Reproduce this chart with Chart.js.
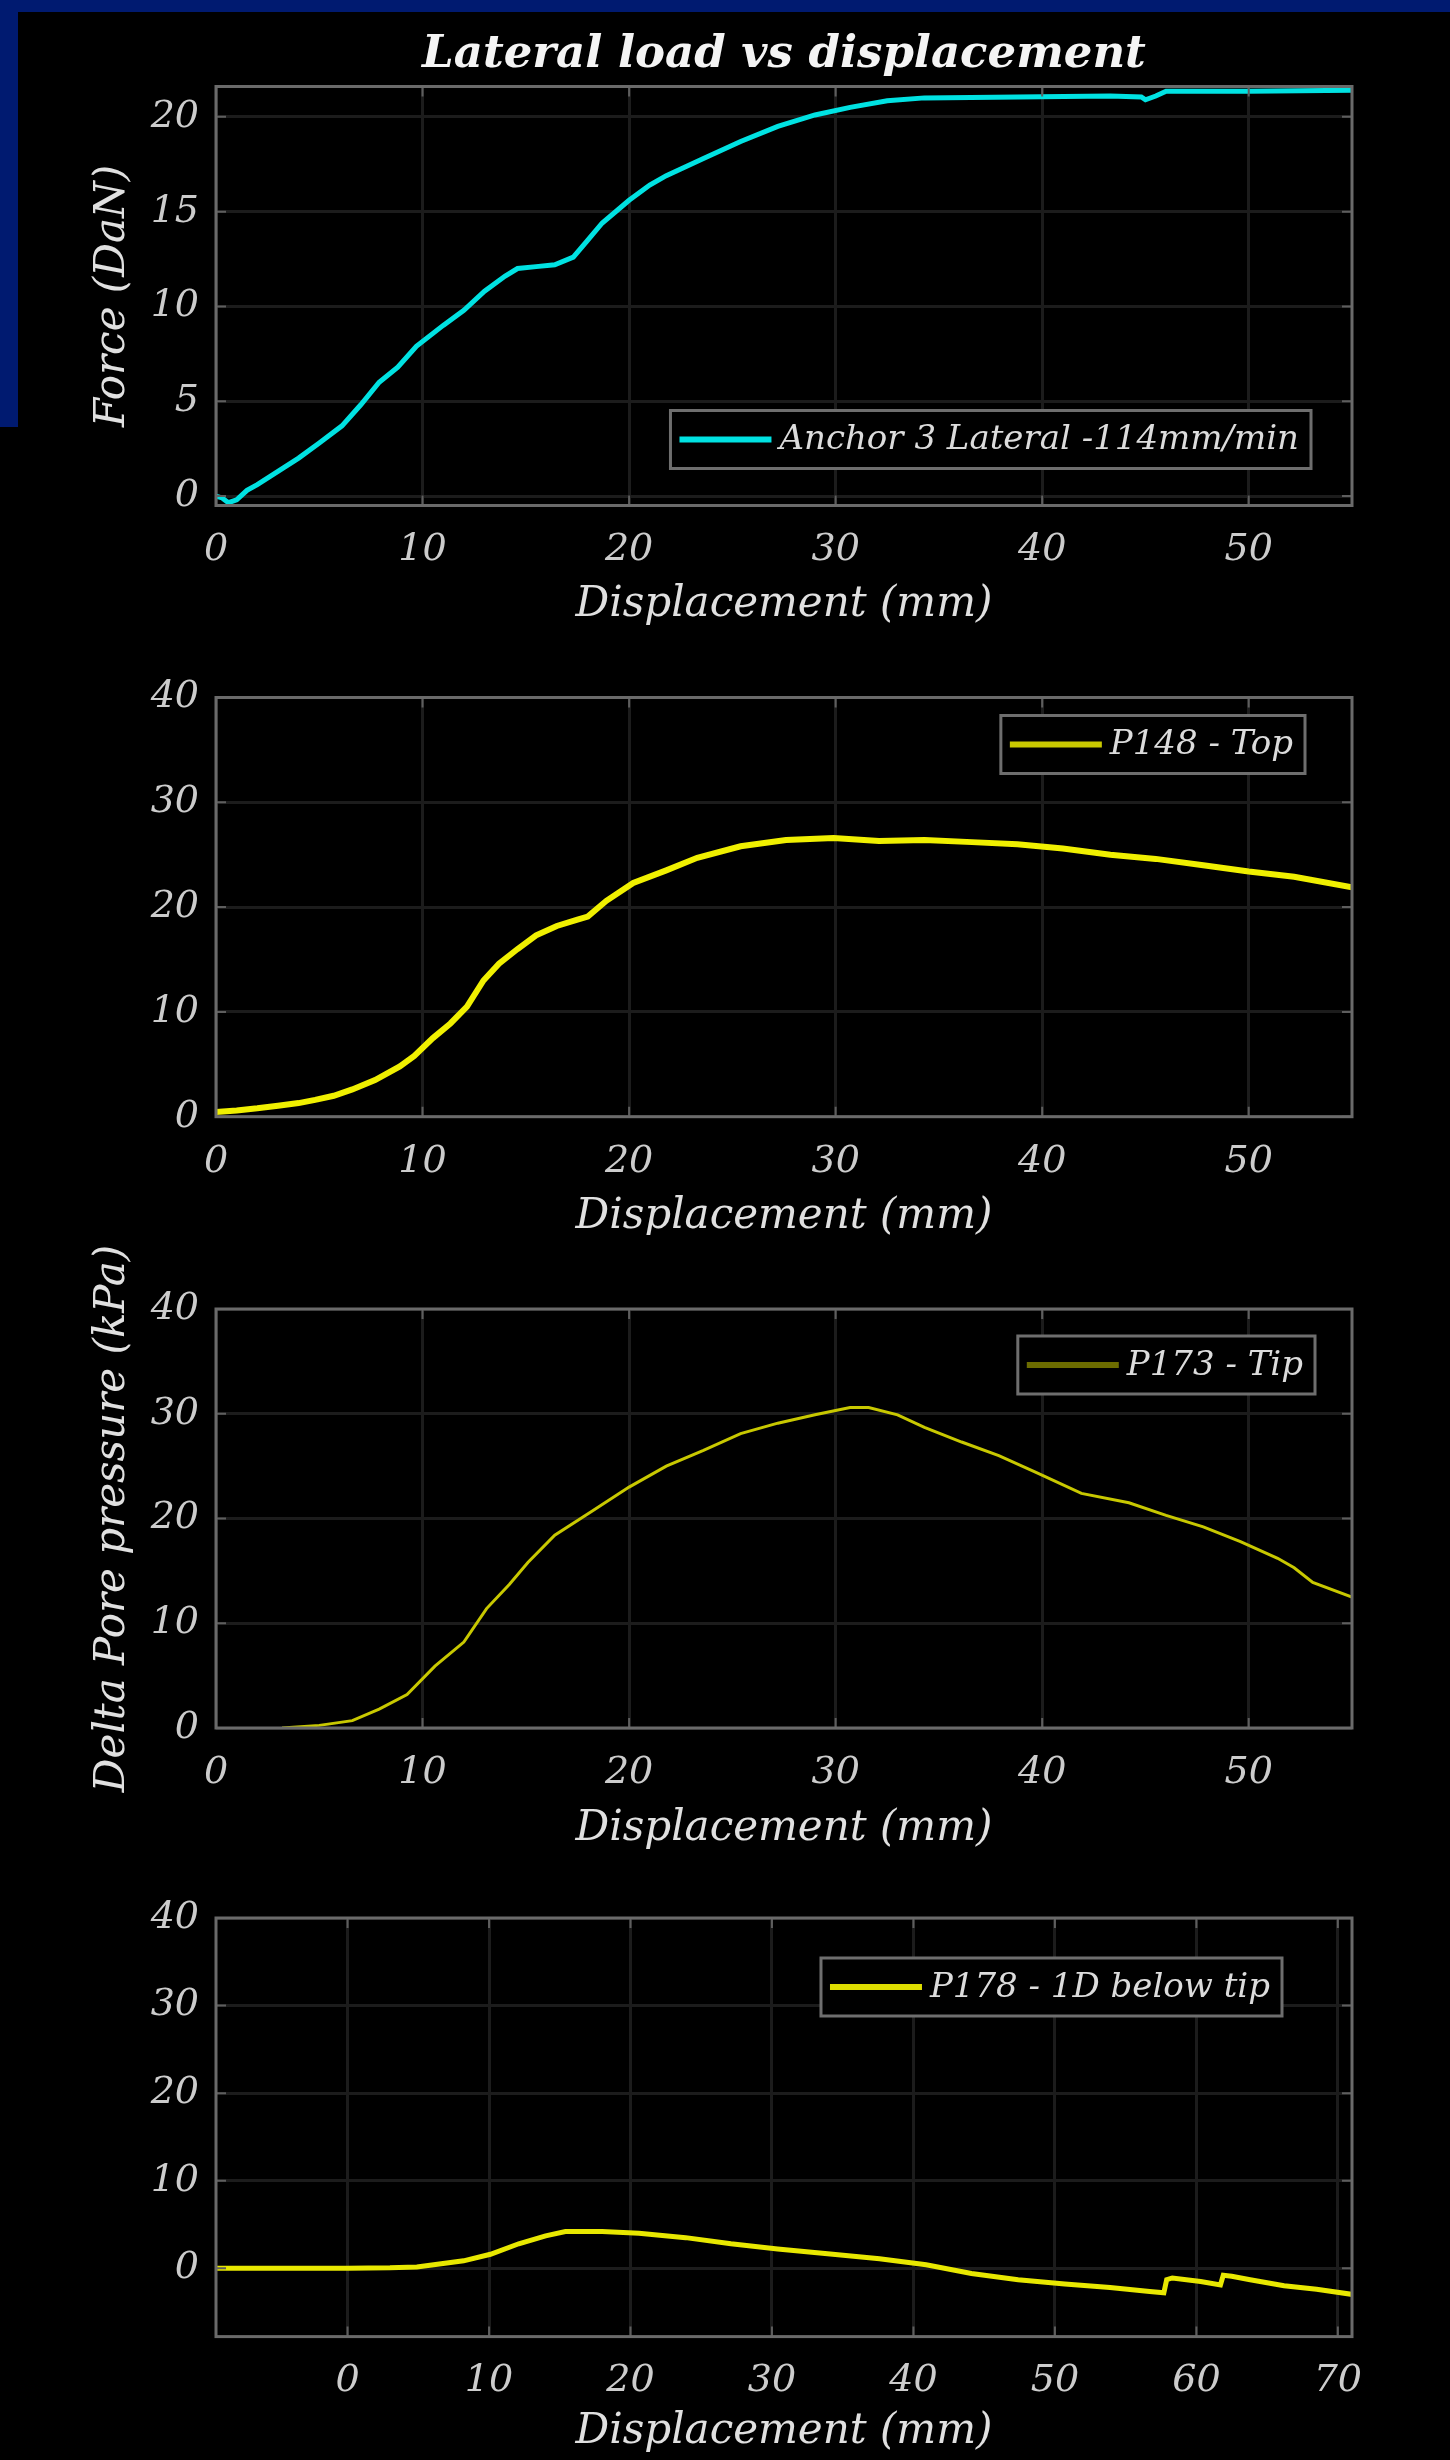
<!DOCTYPE html>
<html>
<head>
<meta charset="utf-8">
<script src="https://cdn.jsdelivr.net/npm/chart.js@4.4.1/dist/chart.umd.min.js"></script>
<style>
  body { margin: 0; background: #000; width: 1450px; height: 2460px; position: relative; overflow: hidden; }
  .band { position: absolute; background: #001a70; }
  canvas { position: absolute; left: 0; }
</style>
</head>
<body>
<div class="band" style="left:0;top:0;width:1450px;height:12px"></div>
<div class="band" style="left:0;top:0;width:18px;height:427px"></div>
<canvas id="force"></canvas>
<canvas id="p148"></canvas>
<canvas id="p173"></canvas>
<canvas id="p178"></canvas>
<script>
// values (displacement in mm)
const anchorX = [0, 0.3, 0.6, 1.0, 1.5, 2.0, 3.0, 4.0, 5.0, 6.1, 7.0, 7.9, 8.8, 9.7, 11.0, 12.0, 13.0, 14.0, 14.6, 15.5,
  16.4, 17.3, 18.0, 18.7, 20.0, 21.0, 21.8, 23.6, 25.4, 27.2, 29.0, 30.7, 32.5, 34.3, 38.8, 43.3, 44.8, 45.0, 45.5, 46.0, 50.0, 55.0];
const anchorY = [0, -0.1, -0.35, -0.2, 0.3, 0.6, 1.3, 2.0, 2.8, 3.7, 4.8, 6.0, 6.8, 7.9, 9.0, 9.8, 10.8, 11.6, 12.0, 12.1,
  12.2, 12.6, 13.5, 14.4, 15.6, 16.4, 16.9, 17.8, 18.7, 19.5, 20.1, 20.5, 20.85, 21.0, 21.05, 21.1, 21.05, 20.9, 21.1, 21.35, 21.35, 21.4];

const p148X = [0, 1, 2, 3, 4, 4.8, 5.7, 6.6, 7.7, 8.9, 9.6, 10.5, 11.35, 12.15, 12.95, 13.7, 14.6, 15.5, 16.5, 17.5,
  18.0, 18.9, 20.2, 21.8, 23.3, 25.4, 27.6, 29.9, 32.1, 34.3, 36.6, 38.8, 41.0, 43.3, 45.5, 47.8, 50.0, 52.2, 55];
const p148Y = [0.45, 0.6, 0.8, 1.05, 1.3, 1.6, 2.0, 2.6, 3.5, 4.8, 5.8, 7.5, 8.9, 10.5, 13.0, 14.6, 16.0, 17.3, 18.2, 18.8,
  19.1, 20.6, 22.3, 23.5, 24.7, 25.8, 26.4, 26.6, 26.3, 26.4, 26.2, 26.0, 25.6, 25.0, 24.6, 24.0, 23.4, 22.9, 21.9];

const p173X = [3.2, 5.0, 6.6, 7.9, 9.25, 10.6, 12.0, 13.1, 14.2, 15.1, 16.4, 18.2, 20.0, 21.8, 23.6, 25.4, 27.2, 29.0,
  30.7, 31.6, 33.0, 34.3, 36.1, 37.9, 39.7, 41.9, 44.2, 46.0, 47.8, 49.6, 51.4, 52.2, 53.1, 55];
const p173Y = [0, 0.25, 0.7, 1.8, 3.2, 5.9, 8.2, 11.4, 13.7, 15.8, 18.4, 20.7, 23.0, 25.0, 26.5, 28.1, 29.1, 29.9,
  30.6, 30.6, 29.9, 28.7, 27.3, 26.0, 24.4, 22.4, 21.5, 20.3, 19.2, 17.8, 16.2, 15.3, 13.9, 12.5];

const p178X = [-9.3, -5, 0, 3, 4.9, 8.2, 10.1, 12.1, 14.0, 15.4, 18.0, 20.6, 23.9, 27.1, 30.4, 34.3, 37.6, 40.9, 44.1,
  47.4, 50.7, 53.9, 56.7, 57.7, 57.9, 58.3, 60.3, 61.7, 61.9, 62.5, 63.8, 66.2, 68.5, 71.1];
const p178Y = [0, 0, 0, 0.05, 0.15, 0.85, 1.6, 2.8, 3.7, 4.2, 4.2, 4.0, 3.5, 2.8, 2.2, 1.6, 1.1, 0.4, -0.6,
  -1.3, -1.8, -2.2, -2.66, -2.8, -1.3, -1.1, -1.5, -1.9, -0.8, -0.9, -1.3, -2.0, -2.4, -3.0];

const dispTicks = [0, 10, 20, 30, 40, 50];
const dispTicksLong = [0, 10, 20, 30, 40, 50, 60, 70];
const forceTicks = [0, 5, 10, 15, 20];
const pressureTicks = [0, 10, 20, 30, 40];

Chart.defaults.font.family = "'DejaVu Serif', serif";
Chart.defaults.animation = false;

const fixedTicks = values => scale => { scale.ticks = values.map(v => ({ value: v })); };

// MATLAB style box with inward tick marks
const frame = {
  id: 'frame',
  afterDatasetsDraw(chart) {
    const { ctx, chartArea: a, scales: { x, y } } = chart;
    ctx.save();
    ctx.strokeStyle = '#5e5e5e';
    ctx.lineWidth = 2;
    ctx.beginPath();
    x.ticks.forEach(t => {
      const px = x.getPixelForValue(t.value);
      ctx.moveTo(px, a.bottom); ctx.lineTo(px, a.bottom - 10);
      ctx.moveTo(px, a.top); ctx.lineTo(px, a.top + 10);
    });
    y.ticks.forEach(t => {
      const py = y.getPixelForValue(t.value);
      ctx.moveTo(a.left, py); ctx.lineTo(a.left + 10, py);
      ctx.moveTo(a.right, py); ctx.lineTo(a.right - 10, py);
    });
    ctx.stroke();
    ctx.strokeStyle = '#6a6a6a';
    ctx.lineWidth = 3;
    ctx.strokeRect(a.left, a.top, a.right - a.left, a.bottom - a.top);
    ctx.restore();
  }
};

// boxed legend drawn inside the plot area
const boxLegend = {
  id: 'boxLegend',
  afterDraw(chart, args, opts) {
    const { ctx, chartArea: a } = chart;
    const ds = chart.data.datasets[0];
    ctx.save();
    ctx.font = "italic 34px 'DejaVu Serif', serif";
    const tw = ctx.measureText(ds.label).width;
    const w = 9 + 92 + 8 + tw + 12, h = 58;
    const right = a.right - opts.dx;
    const top = opts.corner === 'se' ? a.bottom - opts.dy - h : a.top + opts.dy;
    const left = right - w;
    ctx.fillStyle = '#000';
    ctx.fillRect(left, top, w, h);
    ctx.strokeStyle = '#6e6e6e';
    ctx.lineWidth = 3;
    ctx.strokeRect(left, top, w, h);
    ctx.strokeStyle = opts.lineColor || ds.borderColor;
    ctx.lineWidth = 6;
    ctx.beginPath();
    ctx.moveTo(left + 9, top + h / 2);
    ctx.lineTo(left + 101, top + h / 2);
    ctx.stroke();
    ctx.fillStyle = '#dcdcdc';
    ctx.textBaseline = 'middle';
    ctx.fillText(ds.label, left + 109, top + h / 2 + 1);
    ctx.restore();
  }
};

function makePanel(id, g, set, ax) {
  const canvas = document.getElementById(id);
  canvas.width = 1450;
  canvas.height = g.height;
  canvas.style.top = g.top + 'px';
  const areaTop = g.areaTop - g.top;
  const areaBottom = g.areaBottom - g.top;
  const xH = g.height - areaBottom;

  return new Chart(canvas, {
    type: 'line',
    data: {
      datasets: [{
        label: set.label,
        data: set.xs.map((x, i) => ({ x, y: set.ys[i] })),
        borderColor: set.color,
        borderWidth: set.width,
        pointRadius: 0,
        tension: 0,
      }]
    },
    options: {
      responsive: false,
      layout: { autoPadding: false, padding: { top: g.title ? 0 : areaTop, right: 98, left: 0, bottom: 0 } },
      plugins: {
        legend: { display: false },
        tooltip: { enabled: false },
        title: g.title ? {
          display: true,
          fullSize: false,
          text: g.title,
          color: '#f4f4f4',
          font: { size: 45, weight: 'bold', style: 'italic', lineHeight: 1 },
          padding: { top: 33, bottom: areaTop - 78 },
        } : { display: false },
        boxLegend: set.legend,
      },
      scales: {
        x: {
          type: 'linear',
          min: ax.xMin,
          max: ax.xMax,
          afterBuildTicks: fixedTicks(ax.xTicks),
          afterFit: s => { s.height = xH; s.paddingLeft = 0; s.paddingRight = 0; },
          grid: { color: '#1c1c1c', lineWidth: 3, drawTicks: false },
          border: { display: false },
          ticks: { color: '#cccccc', padding: 26, autoSkip: false, maxRotation: 0, font: { size: 38, style: 'italic', lineHeight: 1 } },
          title: {
            display: true,
            text: 'Displacement (mm)',
            color: '#e0e0e0',
            font: { size: 42, style: 'italic', lineHeight: 1 },
            padding: { top: 0, bottom: xH - g.xTitleOffset - 21 },
          },
        },
        y: {
          min: ax.yMin,
          max: ax.yMax,
          afterBuildTicks: fixedTicks(ax.yTicks),
          afterFit: s => { s.width = 216; s.paddingTop = 0; s.paddingBottom = 0; },
          grid: { color: '#1c1c1c', lineWidth: 3, drawTicks: false },
          border: { display: false },
          ticks: { color: '#cccccc', padding: 17, autoSkip: false, font: { size: 38, style: 'italic', lineHeight: 1 } },
          title: ax.yTitle ? {
            display: true,
            text: ax.yTitle,
            color: '#e0e0e0',
            font: { size: 42, style: 'italic', lineHeight: 1 },
            padding: { top: 92, bottom: 0 },
          } : { display: false },
        },
      },
    },
    plugins: [frame, boxLegend],
  });
}

makePanel('force',
  { top: 0, height: 640, areaTop: 86.5, areaBottom: 505.5, xTitleOffset: 100, title: 'Lateral load vs displacement' },
  { label: 'Anchor 3 Lateral -114mm/min', xs: anchorX, ys: anchorY, color: '#00e2e2', width: 5,
    legend: { corner: 'se', dx: 41, dy: 37 } },
  { xMin: 0, xMax: 55, xTicks: dispTicks, yMin: -0.5, yMax: 21.6, yTicks: forceTicks, yTitle: 'Force (DaN)' });

makePanel('p148',
  { top: 640, height: 595, areaTop: 697.5, areaBottom: 1116.7, xTitleOffset: 100 },
  { label: 'P148 - Top', xs: p148X, ys: p148Y, color: '#f0f000', width: 6,
    legend: { corner: 'ne', dx: 47, dy: 18, lineColor: '#c8c800' } },
  { xMin: 0, xMax: 55, xTicks: dispTicks, yMin: 0, yMax: 40, yTicks: pressureTicks });

makePanel('p173',
  { top: 1235, height: 615, areaTop: 1309, areaBottom: 1728, xTitleOffset: 101 },
  { label: 'P173 - Tip', xs: p173X, ys: p173Y, color: '#c8c800', width: 3,
    legend: { corner: 'ne', dx: 37, dy: 27, lineColor: '#6c6c00' } },
  { xMin: 0, xMax: 55, xTicks: dispTicks, yMin: 0, yMax: 40, yTicks: pressureTicks, yTitle: 'Delta Pore pressure (kPa)' });

makePanel('p178',
  { top: 1850, height: 610, areaTop: 1918, areaBottom: 2336.6, xTitleOffset: 95 },
  { label: 'P178 - 1D below tip', xs: p178X, ys: p178Y, color: '#e8e800', width: 5,
    legend: { corner: 'ne', dx: 70, dy: 40, lineColor: '#dede00' } },
  { xMin: -9.3, xMax: 71, xTicks: dispTicksLong, yMin: -7.8, yMax: 40, yTicks: pressureTicks });
</script>
</body>
</html>
